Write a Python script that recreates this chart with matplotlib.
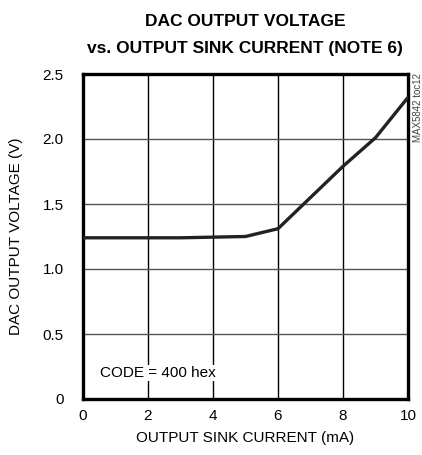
import matplotlib
matplotlib.use('Agg')
import matplotlib.pyplot as plt

# Data
sink_current = [0, 1, 2, 3, 4, 5, 6, 7, 8, 9, 10]
output_voltage = [1.24, 1.24, 1.24, 1.24, 1.245, 1.25, 1.31, 1.55, 1.79, 2.01, 2.32]
x_ticks = [0, 2, 4, 6, 8, 10]
y_ticks = [0, 0.5, 1.0, 1.5, 2.0, 2.5]
y_tick_labels = ['0', '0.5', '1.0', '1.5', '2.0', '2.5']

plt.rcParams['font.family'] = ['Liberation Sans', 'DejaVu Sans']

fig = plt.figure(figsize=(4.22, 4.55), dpi=100)
ax = fig.add_axes([83 / 422, 1 - 399 / 455, 325 / 422, 325 / 455])

ax.plot(sink_current, output_voltage, color='#222222', linewidth=2.4, zorder=3)

ax.set_xlim(0, 10)
ax.set_ylim(0, 2.5)
ax.set_xticks(x_ticks)
ax.set_yticks(y_ticks)
ax.set_yticklabels(y_tick_labels)
ax.tick_params(length=0, labelsize=11)
ax.tick_params(axis='y', pad=14)
ax.tick_params(axis='x', pad=7)

for xv in x_ticks[1:-1]:
    ax.axvline(xv, color='black', linewidth=1.0, zorder=1)
for yv in y_ticks[1:-1]:
    ax.axhline(yv, color='#555555', linewidth=1.0, zorder=1)

for sp in ax.spines.values():
    sp.set_linewidth(2.4)

ax.set_xlabel('OUTPUT SINK CURRENT (mA)', fontsize=11, labelpad=6)
ax.set_ylabel('DAC OUTPUT VOLTAGE (V)', fontsize=11, labelpad=14)

ax.text(0.52, 0.2, 'CODE = 400 hex', fontsize=11, va='center', ha='left',
        bbox=dict(facecolor='white', edgecolor='none', pad=1), zorder=2)

fig.text(245 / 422, 1 - 22 / 455, 'DAC OUTPUT VOLTAGE', ha='center', va='center',
         fontsize=12.5, fontweight='bold')
fig.text(245 / 422, 1 - 49 / 455, 'vs. OUTPUT SINK CURRENT (NOTE 6)', ha='center', va='center',
         fontsize=12.5, fontweight='bold')

fig.text(418 / 422, 1 - 73 / 455, 'MAX5842 toc12', rotation=90, ha='center', va='top',
         fontsize=7, color='#444444')

plt.savefig('out.png', dpi=100)
